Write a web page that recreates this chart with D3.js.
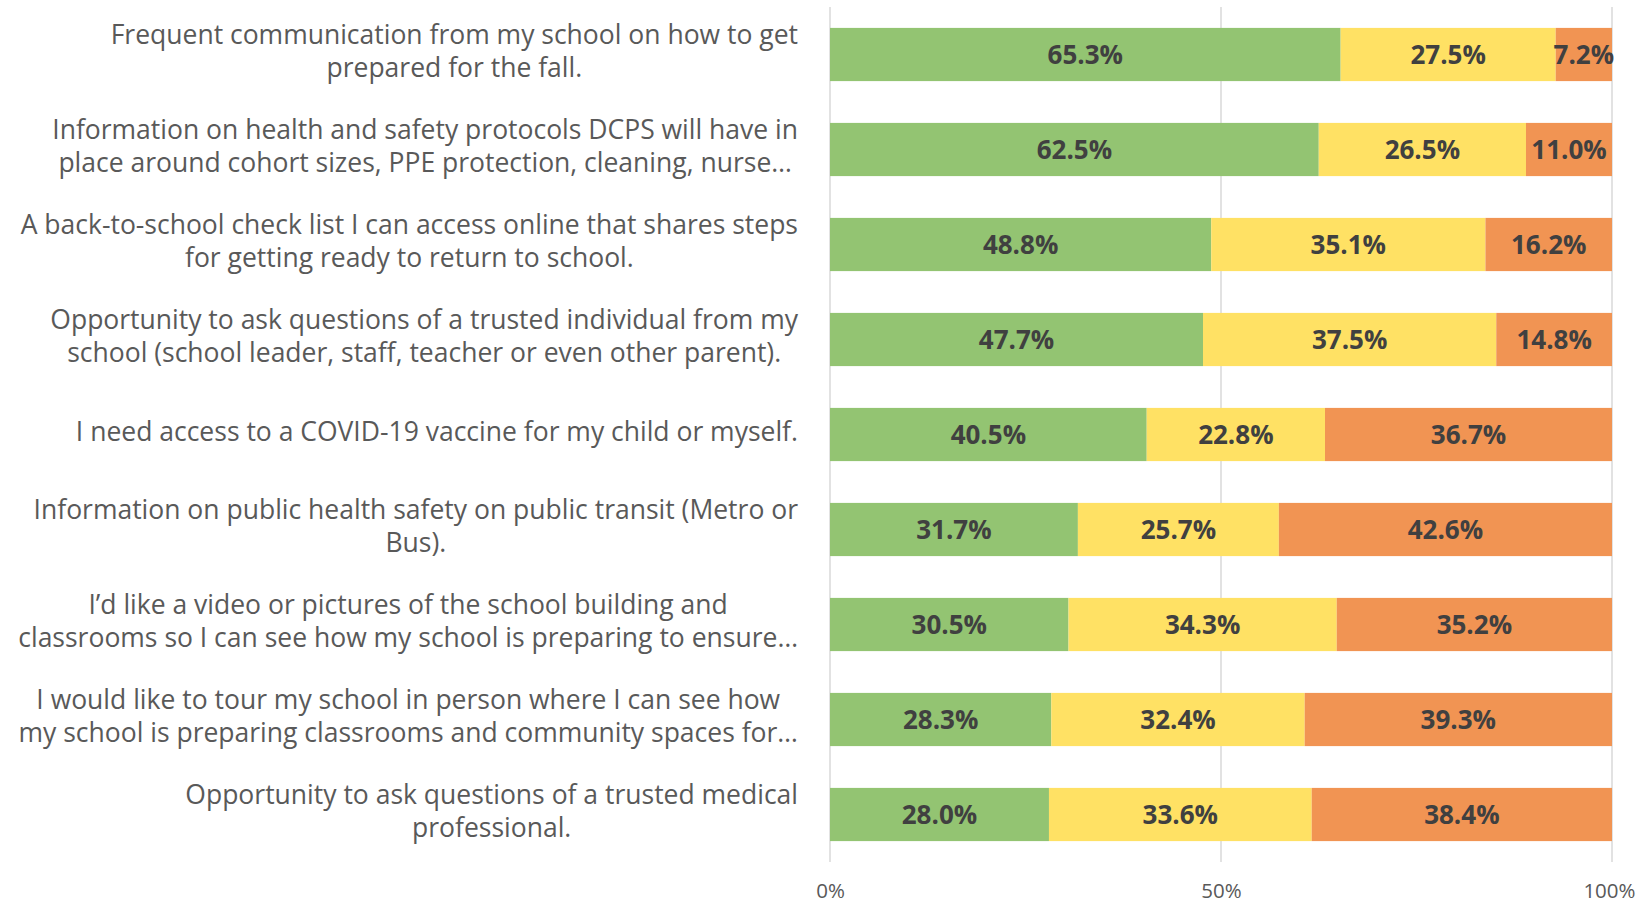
<!DOCTYPE html>
<html>
<head>
<meta charset="utf-8">
<script src="https://cdn.jsdelivr.net/npm/d3@7"></script>
<style>
  html, body { margin: 0; padding: 0; background: #fff; }
  svg { display: block; }
  .cat { font-family: "Open Sans", sans-serif; font-size: 26.5px; fill: #595959; }
  .val { font-family: "Open Sans", sans-serif; font-size: 26px; font-weight: bold; fill: #404040; }
  .tick text { font-family: "Open Sans", sans-serif; font-size: 20.5px; fill: #595959; }
</style>
</head>
<body>
<svg id="chart" width="1636" height="903"></svg>
<script>
// category labels, already wrapped like the original
var categories = [
  ["Frequent communication from my school on how to get", "prepared for the fall."],
  ["Information on health and safety protocols DCPS will have in", "place around cohort sizes, PPE protection, cleaning, nurse…"],
  ["A back-to-school check list I can access online that shares steps", "for getting ready to return to school."],
  ["Opportunity to ask questions of a trusted individual from my", "school (school leader, staff, teacher or even other parent)."],
  ["I need access to a COVID-19 vaccine for my child or myself."],
  ["Information on public health safety on public transit (Metro or", "Bus)."],
  ["I’d like a video or pictures of the school building and", "classrooms so I can see how my school is preparing to ensure…"],
  ["I would like to tour my school in person where I can see how", "my school is preparing classrooms and community spaces for…"],
  ["Opportunity to ask questions of a trusted medical", "professional."]
];
var greenVals  = [65.3, 62.5, 48.8, 47.7, 40.5, 31.7, 30.5, 28.3, 28.0];
var yellowVals = [27.5, 26.5, 35.1, 37.5, 22.8, 25.7, 34.3, 32.4, 33.6];
var orangeVals = [7.2, 11.0, 16.2, 14.8, 36.7, 42.6, 35.2, 39.3, 38.4];
var tickLabels = ["0%", "50%", "100%"];
var tickVals = [0, 0.5, 1];

var colors = ["#93c472", "#ffe164", "#f19453"];

var margin = {top: 7, right: 24, bottom: 41, left: 830},
    W = 1636, H = 903,
    w = W - margin.left - margin.right,
    h = H - margin.top - margin.bottom;

var svg = d3.select("#chart");
var g = svg.append("g").attr("transform", "translate(" + margin.left + "," + margin.top + ")");

var rows = categories.map(function(c, i) {
  var vals = [greenVals[i], yellowVals[i], orangeVals[i]];
  var tot = d3.sum(vals);
  var x0 = 0;
  var segs = vals.map(function(v, k) {
    var s = {v: v, k: k, i: i, x0: x0 / tot, x1: (x0 + v) / tot};
    x0 += v;
    return s;
  });
  return {i: i, lines: c, segs: segs};
});

var x = d3.scaleLinear().domain([0, 1]).range([0, w]);
var y = d3.scaleBand().domain(d3.range(categories.length)).range([0, h]).paddingInner(0.44).paddingOuter(0.22);

// gridlines
g.selectAll(".grid").data(tickVals).enter().append("line")
  .attr("class", "grid")
  .attr("x1", function(d) { return x(d); }).attr("x2", function(d) { return x(d); })
  .attr("y1", 0).attr("y2", h)
  .attr("stroke", "#d9d9d9").attr("stroke-width", 1.5);

// x axis labels
var xAxis = d3.axisBottom(x).tickValues(tickVals)
  .tickFormat(function(d, i) { return tickLabels[i]; })
  .tickSize(0).tickPadding(21);
g.append("g").attr("class", "xaxis").attr("transform", "translate(0," + h + ")")
  .call(xAxis)
  .call(function(s) { s.select(".domain").remove(); });
// keep the 100% label inside the page edge
g.selectAll(".xaxis .tick text").filter(function(d) { return d === 1; })
  .attr("text-anchor", "end").attr("x", margin.right - 1);

// bars
var groups = g.selectAll(".row").data(rows).enter().append("g").attr("class", "row");
groups.selectAll("rect").data(function(d) { return d.segs; })
  .enter().append("rect")
  .attr("x", function(d) { return x(d.x0); })
  .attr("width", function(d) { return x(d.x1) - x(d.x0); })
  .attr("y", function(d) { return y(d.i); })
  .attr("height", y.bandwidth())
  .attr("fill", function(d) { return colors[d.k]; });

groups.selectAll("text").data(function(d) { return d.segs; })
  .enter().append("text")
  .attr("class", "val")
  .attr("x", function(d) { return x((d.x0 + d.x1) / 2); })
  .attr("y", function(d) { return y(d.i) + y.bandwidth() / 2; })
  .attr("dy", "0.36em")
  .attr("text-anchor", "middle")
  .text(function(d) { return d.v.toFixed(1) + "%"; });

// category labels: block right-aligned, lines centred inside block
var lineH = 33, rightEdge = -32;
rows.forEach(function(r) {
  var cy = y(r.i) + y.bandwidth() / 2 - 3;
  var tg = g.append("g");
  var texts = r.lines.map(function(t, j) {
    return tg.append("text").attr("class", "cat")
      .attr("y", cy + (j - (r.lines.length - 1) / 2) * lineH)
      .attr("dy", "0.35em")
      .attr("text-anchor", "middle")
      .text(t);
  });
  var maxW = d3.max(texts, function(t) { return t.node().getComputedTextLength(); });
  texts.forEach(function(t) { t.attr("x", rightEdge - maxW / 2); });
});
</script>
</body>
</html>
